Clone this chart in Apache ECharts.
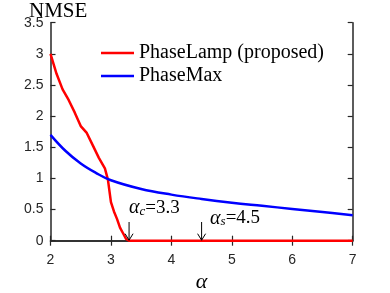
<!DOCTYPE html>
<html>
<head>
<meta charset="utf-8">
<script src="https://cdn.jsdelivr.net/npm/echarts@6/dist/echarts.min.js"></script>
<style>html,body{margin:0;padding:0;background:#fff;}#c{width:390px;height:293px;}</style>
</head>
<body>
<div id="c"></div>
<script>
// ---- data ----
const alphaRed = [2.0, 2.1, 2.2, 2.3, 2.4, 2.5, 2.6, 2.7, 2.8, 2.9, 2.95, 3.0, 3.05, 3.1, 3.15, 3.2, 3.25, 3.3, 4, 5, 6, 7];
const nmseRed  = [3.0, 2.68, 2.43, 2.26, 2.06, 1.84, 1.73, 1.53, 1.33, 1.16, 0.98, 0.62, 0.47, 0.35, 0.21, 0.12, 0.03, 0, 0, 0, 0, 0];
const alphaBlue = [2.0, 2.25, 2.5, 2.75, 3.0, 3.5, 4.0, 4.5, 5.0, 5.5, 6.0, 6.5, 7.0];
const nmseBlue  = [1.70, 1.44, 1.24, 1.09, 0.97, 0.83, 0.74, 0.67, 0.61, 0.56, 0.51, 0.46, 0.41];
const seriesNames = ['PhaseLamp (proposed)', 'PhaseMax'];
const annotAlpha = [3.3, 4.5];
const annotSub = ['c', 's'];
const annotText = ['=3.3', '=4.5'];
const xTicks = {min: 2, max: 7, interval: 1};
const yTicks = {min: 0, max: 3.5, interval: 0.5};

const axisColor = '#262626';
const serif = 'Liberation Serif';
const sans = 'Liberation Sans';

const chart = echarts.init(document.getElementById('c'), null, {renderer: 'canvas'});

function zip(a, b) { return a.map((v, i) => [v, b[i]]); }

const baseX = {
  type: 'value', min: xTicks.min, max: xTicks.max, interval: xTicks.interval,
  axisLine: {show: true, lineStyle: {color: axisColor, width: 1.5}},
  axisTick: {show: true, inside: true, length: 5, lineStyle: {color: axisColor, width: 1.2}},
  splitLine: {show: false}
};
const baseY = {
  type: 'value', min: yTicks.min, max: yTicks.max, interval: yTicks.interval,
  axisLine: {show: true, lineStyle: {color: axisColor, width: 1.5}},
  axisTick: {show: true, inside: true, length: 5, lineStyle: {color: axisColor, width: 1.2}},
  splitLine: {show: false}
};

const option = {
  animation: false,
  backgroundColor: '#fff',
  title: {
    text: 'NMSE', left: 24, top: -4,
    textStyle: {fontFamily: serif, fontWeight: 'normal', fontSize: 21, color: '#000'}
  },
  grid: {left: 50.5, right: 37.3, top: 22.7, bottom: 52.3, containLabel: false, outerBoundsMode: 'none'},
  legend: {
    orient: 'vertical', left: 101, top: 43, padding: 0,
    itemWidth: 33, itemHeight: 2.5, itemGap: 3,
    textStyle: {fontFamily: serif, fontSize: 20, color: '#000', lineHeight: 20},
    data: [{name: seriesNames[0], icon: 'rect'}, {name: seriesNames[1], icon: 'rect'}]
  },
  xAxis: [
    Object.assign({}, baseX, {
      position: 'bottom',
      axisLabel: {show: true, margin: 12, fontFamily: sans, fontSize: 14, color: axisColor},
      name: 'α', nameLocation: 'middle', nameGap: 25,
      nameTextStyle: {fontFamily: serif, fontStyle: 'italic', fontSize: 22, color: '#000'}
    }),
    Object.assign({}, baseX, {position: 'top', axisLabel: {show: false}})
  ],
  yAxis: [
    Object.assign({}, baseY, {
      position: 'left',
      axisLabel: {show: true, margin: 7, fontFamily: sans, fontSize: 14, color: axisColor}
    }),
    Object.assign({}, baseY, {position: 'right', axisLabel: {show: false}})
  ],
  series: [
    {
      name: seriesNames[0], type: 'line', data: zip(alphaRed, nmseRed),
      showSymbol: false, symbol: 'none', color: '#ff0000',
      lineStyle: {color: '#ff0000', width: 2.5}, z: 3
    },
    {
      name: seriesNames[1], type: 'line', data: zip(alphaBlue, nmseBlue),
      showSymbol: false, symbol: 'none', smooth: 0.4, color: '#0000ff',
      lineStyle: {color: '#0000ff', width: 2.5}, z: 4
    },
    {
      type: 'custom', silent: true, z: 5,
      data: annotAlpha.map((a, i) => [a, i]),
      renderItem: function (params, api) {
        const a = api.value(0);
        const i = api.value(1);
        const top = api.coord([a, 0.3]);
        const bot = api.coord([a, 0]);
        const labelPos = i === 0 ? api.coord([a, 0.53]) : api.coord([a, 0.36]);
        const dx = i === 0 ? 0 : 8.5;
        return {
          type: 'group',
          children: [
            {type: 'line', shape: {x1: top[0], y1: top[1], x2: bot[0], y2: bot[1] - 0.5},
              style: {stroke: '#000', lineWidth: 1}},
            {type: 'polyline', shape: {points: [[bot[0] - 4, bot[1] - 7], [bot[0], bot[1] - 0.5], [bot[0] + 4, bot[1] - 7]]},
              style: {stroke: '#000', lineWidth: 1, fill: null}},
            {type: 'text', x: labelPos[0] + dx, y: labelPos[1],
              style: {
                text: '{a|α}{s|' + annotSub[i] + '}{t|' + annotText[i] + '}',
                align: 'left', verticalAlign: 'middle',
                rich: {
                  a: {fontFamily: serif, fontStyle: 'italic', fontSize: 20, color: '#000', lineHeight: 20, verticalAlign: 'middle'},
                  s: {fontFamily: serif, fontStyle: 'italic', fontSize: 13, color: '#000', lineHeight: 4, verticalAlign: 'bottom'},
                  t: {fontFamily: serif, fontSize: 19, color: '#000', lineHeight: 20, verticalAlign: 'middle'}
                }
              }}
          ]
        };
      }
    }
  ]
};
chart.setOption(option);
</script>
</body>
</html>
